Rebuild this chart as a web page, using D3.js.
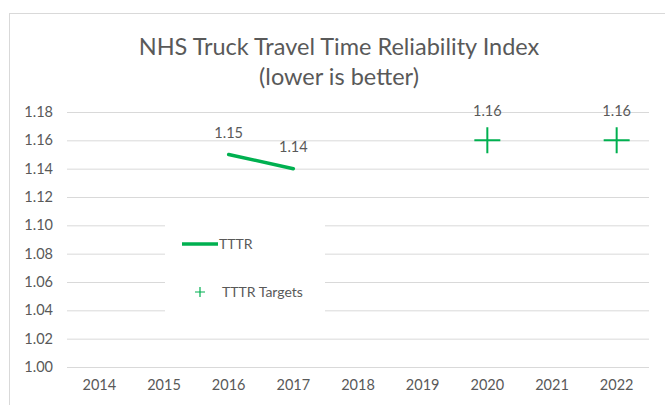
<!DOCTYPE html>
<html>
<head>
<meta charset="utf-8">
<script src="https://cdn.jsdelivr.net/npm/d3@7"></script>
<style>
  body { margin: 0; background: #fff; }
  text { font-family: Lato, "Open Sans", sans-serif; fill: #595959; }
</style>
</head>
<body>
<div id="wrapper"></div>
<script>
const years = ["2014", "2015", "2016", "2017", "2018", "2019", "2020", "2021", "2022"];
const tttrYears = ["2016", "2017"];
const tttrValues = [1.15, 1.14];
const targetYears = ["2020", "2022"];
const targetValues = [1.16, 1.16];
const yTicks = [1.00, 1.02, 1.04, 1.06, 1.08, 1.10, 1.12, 1.14, 1.16, 1.18];

const green = "#00B050";

const dimension = {
    width: 665,
    height: 405,
    margin: { top: 112, left: 67, bottom: 38, right: 16 }
};
dimension.boundedWidth = dimension.width - dimension.margin.left - dimension.margin.right;
dimension.boundedHeight = dimension.height - dimension.margin.top - dimension.margin.bottom;

const svg = d3.select("#wrapper").append("svg")
    .attr("width", dimension.width)
    .attr("height", dimension.height);

// chart border
svg.append("rect")
    .attr("x", 9.5).attr("y", 13.5)
    .attr("width", 700).attr("height", 500)
    .attr("fill", "none")
    .attr("stroke", "#d9d9d9");

// title
const title = svg.append("text")
    .attr("text-anchor", "middle")
    .attr("font-size", "23.5px");
title.append("tspan").attr("x", 339).attr("y", 55).text("NHS Truck Travel Time Reliability Index");
title.append("tspan").attr("x", 339).attr("y", 85).text("(lower is better)");

const bounded = svg.append("g")
    .attr("transform", `translate(${dimension.margin.left},${dimension.margin.top})`);

const scaleX = d3.scaleBand()
    .domain(years)
    .range([0, dimension.boundedWidth]);

const scaleY = d3.scaleLinear()
    .domain([1.00, 1.18])
    .range([dimension.boundedHeight, 0]);

// gridlines + y axis
const yAxis = bounded.append("g")
    .call(d3.axisLeft(scaleY).tickValues(yTicks).tickFormat(d3.format(".2f"))
        .tickSize(-dimension.boundedWidth).tickPadding(14));
yAxis.select(".domain").remove();
yAxis.selectAll("line").attr("stroke", "#d9d9d9");
yAxis.selectAll("text").attr("font-size", "14.5px").attr("fill", "#595959");

// x axis labels
const xAxis = bounded.append("g")
    .attr("transform", `translate(0,${dimension.boundedHeight})`)
    .call(d3.axisBottom(scaleX).tickSize(0).tickPadding(13));
xAxis.select(".domain").remove();
xAxis.selectAll("text").attr("font-size", "14.5px").attr("fill", "#595959");

const cx = d => scaleX(d) + scaleX.bandwidth() / 2;

// legend box (covers gridlines)
bounded.append("rect")
    .attr("x", 98).attr("y", 104)
    .attr("width", 160).attr("height", 104)
    .attr("fill", "#fff");

// TTTR line
const tttr = tttrYears.map((y, i) => ({ year: y, value: tttrValues[i] }));
bounded.append("path")
    .datum(tttr)
    .attr("d", d3.line().x(d => cx(d.year)).y(d => scaleY(d.value)))
    .attr("fill", "none")
    .attr("stroke", green)
    .attr("stroke-width", 3.5)
    .attr("stroke-linecap", "round");

bounded.selectAll(".tttr-label")
    .data(tttr)
    .join("text")
    .attr("x", d => cx(d.year))
    .attr("y", d => scaleY(d.value) - 17)
    .attr("text-anchor", "middle")
    .attr("font-size", "14.5px")
    .text(d => d3.format(".2f")(d.value));

// targets
const targets = targetYears.map((y, i) => ({ year: y, value: targetValues[i] }));
const tg = bounded.selectAll(".target")
    .data(targets)
    .join("g")
    .attr("transform", d => `translate(${cx(d.year)},${scaleY(d.value)})`);
tg.append("path").attr("d", "M-13,0H13M0,-13V13")
    .attr("stroke", green).attr("stroke-width", 2).attr("fill", "none");
tg.append("text")
    .attr("y", -24)
    .attr("text-anchor", "middle")
    .attr("font-size", "14.5px")
    .text(d => d3.format(".2f")(d.value));

// legend
const legend = bounded.append("g");
legend.append("line")
    .attr("x1", 115).attr("x2", 151)
    .attr("y1", 132).attr("y2", 132)
    .attr("stroke", green).attr("stroke-width", 3.5);
legend.append("text")
    .attr("x", 152).attr("y", 137)
    .attr("font-size", "14px")
    .text("TTTR");
legend.append("path")
    .attr("d", "M-5,0H5M0,-5V5")
    .attr("transform", "translate(133,180)")
    .attr("stroke", green).attr("stroke-width", 1.2).attr("fill", "none");
legend.append("text")
    .attr("x", 155).attr("y", 185)
    .attr("font-size", "14px")
    .text("TTTR Targets");
</script>
</body>
</html>
